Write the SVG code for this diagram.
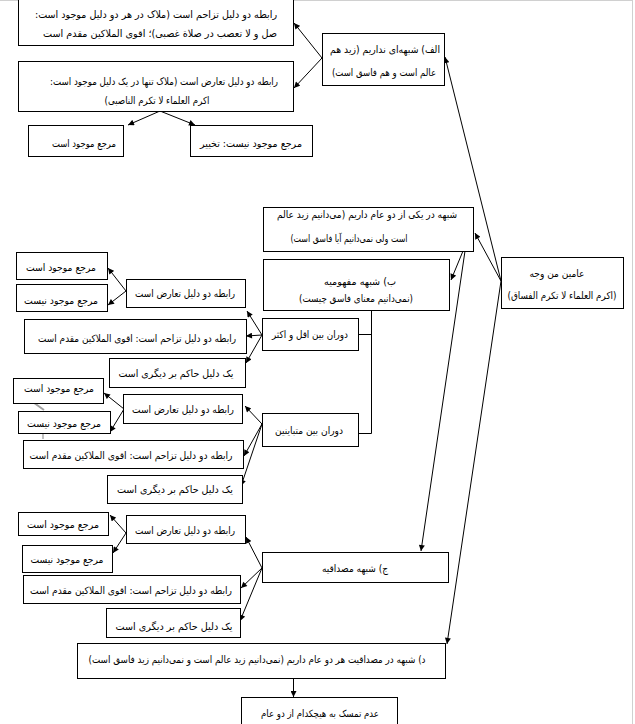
<svg xmlns="http://www.w3.org/2000/svg" width="635" height="724" viewBox="0 0 635 724">
<defs>
<marker id="ah" viewBox="0 0 10 10" refX="10" refY="5" markerWidth="7" markerHeight="6" markerUnits="userSpaceOnUse" orient="auto">
<path d="M0,0 L10,5 L0,10 z" fill="#000"/>
</marker>
<style>
rect{fill:#fff;stroke:#000;stroke-width:1}
text{font-family:"DejaVu Sans","Noto Sans",sans-serif;font-size:10px;fill:#000;text-anchor:middle;direction:rtl}
.c line,.c polyline{stroke:#000;stroke-width:1;fill:none}
.a{marker-end:url(#ah)}
</style>
</defs>
<rect x="0" y="0" width="635" height="724" style="fill:#fff;stroke:none"/>
<line x1="0" y1="0.5" x2="632.5" y2="0.5" stroke="#d0d0d0"/>
<line x1="632.5" y1="0" x2="632.5" y2="724" stroke="#d0d0d0"/>
<line x1="30" y1="400" x2="44" y2="410" stroke="#a0a0a0" stroke-width="2"/>
<line x1="43" y1="434" x2="43" y2="439" stroke="#c0c0c0" stroke-width="2"/>

<g class="c" id="connectors">
<line class="a" x1="322" y1="58" x2="294" y2="23"/>
<line class="a" x1="322" y1="58" x2="294" y2="88"/>
<line class="a" x1="160" y1="111" x2="128" y2="125"/>
<line class="a" x1="160" y1="111" x2="195" y2="125"/>
<line class="a" x1="501" y1="281" x2="445" y2="57"/>
<line class="a" x1="501" y1="281" x2="475" y2="233"/>
<line class="a" x1="501" y1="281" x2="447" y2="644"/>
<line class="a" x1="463" y1="251" x2="451" y2="280"/>
<line class="a" x1="465" y1="251" x2="421" y2="551"/>
<polyline points="371.5,310 371.5,433.5 358,433.5"/>
<line x1="371.5" y1="334.5" x2="358" y2="334.5"/>
<line class="a" x1="262" y1="335" x2="247" y2="311"/>
<line class="a" x1="262" y1="335" x2="246" y2="336"/>
<line class="a" x1="262" y1="335" x2="246" y2="363"/>
<line class="a" x1="126" y1="291" x2="108" y2="268"/>
<line class="a" x1="126" y1="291" x2="108" y2="305"/>
<line class="a" x1="262" y1="424" x2="245" y2="406"/>
<line class="a" x1="262" y1="424" x2="244" y2="456"/>
<line class="a" x1="262" y1="424" x2="241" y2="486"/>
<line class="a" x1="124" y1="409" x2="104" y2="393"/>
<line class="a" x1="124" y1="409" x2="110" y2="432"/>
<line class="a" x1="262" y1="568" x2="246" y2="537"/>
<line class="a" x1="262" y1="568" x2="241" y2="588"/>
<line class="a" x1="262" y1="568" x2="240" y2="621"/>
<line class="a" x1="126" y1="533" x2="110" y2="515"/>
<line class="a" x1="126" y1="533" x2="113" y2="553"/>
<line class="a" x1="293.5" y1="678" x2="293.5" y2="697"/>
</g>

<g id="n_a1"><rect x="18.5" y="-1.5" width="275" height="47"/>
<text x="156" y="17.5" textLength="242" lengthAdjust="spacingAndGlyphs">رابطه دو دلیل تزاحم است (ملاک در هر دو دلیل موجود است:</text>
<text x="160" y="36.5" textLength="234" lengthAdjust="spacingAndGlyphs">صل و لا تعصب در صلاة غصبی)؛ اقوی الملاکین مقدم است</text></g>

<g id="n_a2"><rect x="18.5" y="61.5" width="275" height="50"/>
<text x="164" y="84.5" textLength="228" lengthAdjust="spacingAndGlyphs">رابطه دو دلیل تعارض است (ملاک تنها در یک دلیل موجود است:</text>
<text x="157" y="103.5" textLength="105" lengthAdjust="spacingAndGlyphs">اکرم العلماء لا تکرم الناصبی)</text></g>

<g id="n_a2_yes"><rect x="28.5" y="125.5" width="95" height="31"/>
<text x="84" y="146.5" textLength="64" lengthAdjust="spacingAndGlyphs">مرجع موجود است</text></g>

<g id="n_a2_no"><rect x="190.5" y="125.5" width="122" height="31"/>
<text x="251" y="146.5" textLength="102" lengthAdjust="spacingAndGlyphs">مرجع موجود نیست: تخییر</text></g>

<g id="n_alef"><rect x="322.5" y="33.5" width="122" height="52"/>
<text x="385" y="52.5" textLength="110" lengthAdjust="spacingAndGlyphs">الف) شبهه‌ای نداریم (زید هم</text>
<text x="384" y="75.5" textLength="104" lengthAdjust="spacingAndGlyphs">عالم است و هم فاسق است)</text></g>

<g id="n_shobhe"><rect x="263.5" y="207.5" width="210" height="44"/>
<text x="367" y="217.5" textLength="180" lengthAdjust="spacingAndGlyphs">شبهه در یکی از دو عام داریم (می‌دانیم زید عالم</text>
<text x="349" y="241.5" textLength="117" lengthAdjust="spacingAndGlyphs">است ولی نمی‌دانیم آیا فاسق است)</text></g>

<g id="n_b"><rect x="263.5" y="259.5" width="186" height="51"/>
<text x="360" y="284.5" textLength="72" lengthAdjust="spacingAndGlyphs">ب) شبهه مفهومیه</text>
<text x="356" y="301.5" textLength="114" lengthAdjust="spacingAndGlyphs">(نمی‌دانیم معنای فاسق چیست)</text></g>

<g id="n_amin"><rect x="501.5" y="257.5" width="122" height="51"/>
<text x="557" y="276.5" textLength="55" lengthAdjust="spacingAndGlyphs">عامین من وجه</text>
<text x="562" y="298.5" textLength="109" lengthAdjust="spacingAndGlyphs">(اکرم العلماء لا تکرم الفساق)</text></g>

<g id="n_dq"><rect x="262.5" y="318.5" width="96" height="32"/>
<text x="310" y="337.5" textLength="76" lengthAdjust="spacingAndGlyphs">دوران بین اقل و اکثر</text></g>

<g id="n_dm"><rect x="262.5" y="413.5" width="96" height="33"/>
<text x="309" y="433.5" textLength="68" lengthAdjust="spacingAndGlyphs">دوران بین متباینین</text></g>

<g id="n_j"><rect x="262.5" y="552.5" width="186" height="30"/>
<text x="355" y="571.5" textLength="66" lengthAdjust="spacingAndGlyphs">ج) شبهه مصداقیه</text></g>

<g id="n_d"><rect x="77.5" y="643.5" width="368" height="35"/>
<text x="257" y="662.5" textLength="337" lengthAdjust="spacingAndGlyphs">د) شبهه در مصداقیت هر دو عام داریم (نمی‌دانیم زید عالم است و نمی‌دانیم زید فاسق است)</text></g>

<g id="n_adam"><rect x="241.5" y="697.5" width="156" height="35"/>
<text x="320" y="716.5" textLength="118" lengthAdjust="spacingAndGlyphs">عدم تمسک به هیچکدام از دو عام</text></g>

<g id="g1_yes"><rect x="16.5" y="252.5" width="91" height="27"/>
<text x="61" y="270.5" textLength="70" lengthAdjust="spacingAndGlyphs">مرجع موجود است</text></g>
<g id="g1_no"><rect x="16.5" y="284.5" width="91" height="27"/>
<text x="61" y="303.5" textLength="74" lengthAdjust="spacingAndGlyphs">مرجع موجود نیست</text></g>
<g id="g1_taarod"><rect x="126.5" y="279.5" width="119" height="28"/>
<text x="185" y="296.5" textLength="100" lengthAdjust="spacingAndGlyphs">رابطه دو دلیل تعارض است</text></g>
<g id="g1_tazahom"><rect x="24.5" y="319.5" width="222" height="34"/>
<text x="137" y="341.5" textLength="198" lengthAdjust="spacingAndGlyphs">رابطه دو دلیل تزاحم است: اقوی الملاکین مقدم است</text></g>
<g id="g1_hakem"><rect x="109.5" y="358.5" width="136" height="29"/>
<text x="176" y="376.5" textLength="115" lengthAdjust="spacingAndGlyphs">یک دلیل حاکم بر دیگری است</text></g>

<g id="g2_yes"><rect x="13.5" y="378.5" width="90" height="25"/>
<text x="59" y="391.5" textLength="70" lengthAdjust="spacingAndGlyphs">مرجع موجود است</text></g>
<g id="g2_no"><rect x="18.5" y="411.5" width="92" height="22"/>
<text x="64" y="426.5" textLength="74" lengthAdjust="spacingAndGlyphs">مرجع موجود نیست</text></g>
<g id="g2_taarod"><rect x="123.5" y="394.5" width="119" height="29"/>
<text x="183" y="412.5" textLength="102" lengthAdjust="spacingAndGlyphs">رابطه دو دلیل تعارض است</text></g>
<g id="g2_tazahom"><rect x="23.5" y="440.5" width="220" height="28"/>
<text x="131" y="458.5" textLength="203" lengthAdjust="spacingAndGlyphs">رابطه دو دلیل تزاحم است: اقوی الملاکین مقدم است</text></g>
<g id="g2_hakem"><rect x="107.5" y="475.5" width="135" height="28"/>
<text x="175" y="492.5" textLength="116" lengthAdjust="spacingAndGlyphs">یک دلیل حاکم بر دیگری است</text></g>

<g id="g3_yes"><rect x="18.5" y="512.5" width="90" height="23"/>
<text x="63" y="527.5" textLength="72" lengthAdjust="spacingAndGlyphs">مرجع موجود است</text></g>
<g id="g3_no"><rect x="22.5" y="545.5" width="90" height="27"/>
<text x="67" y="562.5" textLength="73" lengthAdjust="spacingAndGlyphs">مرجع موجود نیست</text></g>
<g id="g3_taarod"><rect x="126.5" y="515.5" width="119" height="28"/>
<text x="185" y="533.5" textLength="100" lengthAdjust="spacingAndGlyphs">رابطه دو دلیل تعارض است</text></g>
<g id="g3_tazahom"><rect x="23.5" y="575.5" width="217" height="28"/>
<text x="131" y="593.5" textLength="202" lengthAdjust="spacingAndGlyphs">رابطه دو دلیل تزاحم است: اقوی الملاکین مقدم است</text></g>
<g id="g3_hakem"><rect x="106.5" y="608.5" width="134" height="29"/>
<text x="174" y="629.5" textLength="117" lengthAdjust="spacingAndGlyphs">یک دلیل حاکم بر دیگری است</text></g>
</svg>
